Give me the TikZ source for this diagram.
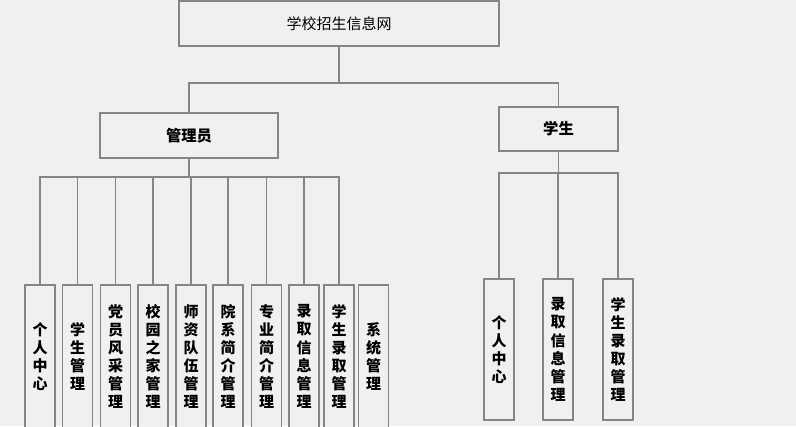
\documentclass[tikz,border=0pt]{standalone}
\usepackage{fontspec}
\setmainfont{Noto Sans CJK SC}
\definecolor{bg}{HTML}{F0F0F0}
\definecolor{ln}{HTML}{858585}
\begin{document}
\begin{tikzpicture}[x=0.75pt,y=-0.75pt,
  box/.style={draw=ln, line width=0.8pt, fill=bg, inner sep=0pt, font=\fontsize{11.25}{13.5}\selectfont},
  leaf/.style={box, minimum width=30*0.75pt, align=center, text width=1.2em, font=\fontsize{11.25}{13.6}\selectfont\bfseries},
  conn/.style={draw=ln, line width=0.8pt}]
\fill[bg] (0,0) rectangle (796,426);
\useasboundingbox (0,0) rectangle (796,426);
\clip (0,0) rectangle (796,426);
% top levels
\node[box, minimum width=320*0.75pt, minimum height=45*0.75pt] (top) at (339,23.5) {学校招生信息网};
\node[box, minimum width=178*0.75pt, minimum height=45*0.75pt, font=\fontsize{11.5}{13.5}\selectfont\bfseries] (admin) at (189,135.5) {管理员};
\node[box, minimum width=119*0.75pt, minimum height=44*0.75pt, font=\fontsize{11.5}{13.5}\selectfont\bfseries] (stu) at (558.5,129) {学生};
% admin leaves
\foreach \n/\x/\t in {L1/40/{个\\人\\中\\心}, L2/77.5/{学\\生\\管\\理}, L3/115.5/{党\\员\\风\\采\\管\\理},
  L4/153/{校\\园\\之\\家\\管\\理}, L5/191/{师\\资\\队\\伍\\管\\理}, L6/228/{院\\系\\简\\介\\管\\理},
  L7/266.5/{专\\业\\简\\介\\管\\理}, L8/304/{录\\取\\信\\息\\管\\理}, L9/339/{学\\生\\录\\取\\管\\理},
  L10/373.5/{系\\统\\管\\理}}
  \node[leaf, minimum height=143*0.75pt] (\n) at (\x,356.5) {\t};
% student leaves
\foreach \n/\x/\t in {S1/499/{个\\人\\中\\心}, S2/558/{录\\取\\信\\息\\管\\理}, S3/618/{学\\生\\录\\取\\管\\理}}
  \node[leaf, minimum height=141*0.75pt] (\n) at (\x,349.5) {\t};
% connectors
\coordinate (b1) at (339,83);
\draw[conn] (top.south) -- (b1);
\draw[conn] (admin.north) |- (b1) -| (stu.north);
\coordinate (ab) at (189,177);
\draw[conn] (admin.south) -- (ab);
\foreach \n in {L1,L2,L3,L4,L5,L6,L7,L8,L9}
  \draw[conn] (ab) -| (\n.north);
\coordinate (sb) at (558.5,173);
\draw[conn] (stu.south) -- (sb);
\foreach \n in {S1,S2,S3}
  \draw[conn] (sb) -| (\n.north);
\end{tikzpicture}
\end{document}
